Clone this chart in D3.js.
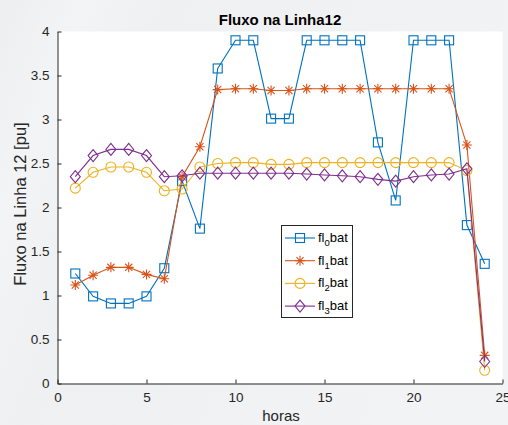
<!doctype html>
<html>
<head>
<meta charset="utf-8">
<script src="https://d3js.org/d3.v7.min.js"></script>
<style>
body { margin: 0; }
text { font-family: "Liberation Sans", Arial, sans-serif; }
</style>
</head>
<body>
<svg width="508" height="425"></svg>
<script>
var hours = d3.range(1, 25)
var fl0 = [1.25, 0.99, 0.91, 0.91, 0.99, 1.31, 2.30, 1.76, 3.58, 3.90, 3.90, 3.01,
           3.01, 3.90, 3.90, 3.90, 3.90, 2.74, 2.08, 3.90, 3.90, 3.90, 1.80, 1.36]
var fl1 = [1.12, 1.23, 1.32, 1.32, 1.24, 1.19, 2.35, 2.69, 3.34, 3.35, 3.35, 3.33,
           3.33, 3.35, 3.35, 3.35, 3.35, 3.35, 3.35, 3.35, 3.35, 3.35, 2.71, 0.32]
var fl2 = [2.22, 2.40, 2.46, 2.46, 2.40, 2.19, 2.21, 2.46, 2.50, 2.51, 2.51, 2.49,
           2.49, 2.51, 2.51, 2.51, 2.51, 2.51, 2.51, 2.51, 2.51, 2.51, 2.42, 0.15]
var fl3 = [2.35, 2.59, 2.66, 2.66, 2.59, 2.35, 2.36, 2.39, 2.39, 2.39, 2.39, 2.39,
           2.39, 2.38, 2.37, 2.36, 2.35, 2.32, 2.30, 2.35, 2.37, 2.38, 2.44, 0.25]
var series_names = ["0", "1", "2", "3"]
var x_ticks = [0, 5, 10, 15, 20, 25]
var y_ticks = [0, 0.5, 1, 1.5, 2, 2.5, 3, 3.5, 4]

var series = [
    {sub: series_names[0], values: fl0, color: "#0072BD", marker: "square"},
    {sub: series_names[1], values: fl1, color: "#D95319", marker: "star"},
    {sub: series_names[2], values: fl2, color: "#EDB120", marker: "circle"},
    {sub: series_names[3], values: fl3, color: "#7E2F8E", marker: "diamond"},
]

var svg = d3.select("svg")
var ax_left = 57.5, ax_right = 502.5, ax_top = 31.5, ax_bottom = 383.5

// figure background, light gray with a soft streak
var defs = svg.append("defs")
var grad = defs.append("linearGradient").attr("id", "bg")
    .attr("x1", "0").attr("y1", "0").attr("x2", "1").attr("y2", "0.3")
grad.append("stop").attr("offset", "0").attr("stop-color", "#eceeef")
grad.append("stop").attr("offset", "0.15").attr("stop-color", "#f3f4f5")
grad.append("stop").attr("offset", "0.3").attr("stop-color", "#eef0f1")
grad.append("stop").attr("offset", "1").attr("stop-color", "#f2f3f5")
svg.append("rect").attr("width", 508).attr("height", 425).attr("fill", "url(#bg)")

var x = d3.scaleLinear().domain([0, 25]).range([ax_left, ax_right])
var y = d3.scaleLinear().domain([0, 4]).range([ax_bottom, ax_top])

svg.append("rect")
    .attr("x", ax_left).attr("y", ax_top)
    .attr("width", ax_right - ax_left).attr("height", ax_bottom - ax_top)
    .attr("fill", "white")

var fmt = d3.format("~g")
svg.append("g")
    .attr("transform", "translate(0," + ax_bottom + ")")
    .call(d3.axisBottom(x).tickValues(x_ticks).tickFormat(fmt)
        .tickSizeInner(-4).tickSizeOuter(0).tickPadding(9))
svg.append("g")
    .attr("transform", "translate(" + ax_left + ",0)")
    .call(d3.axisLeft(y).tickValues(y_ticks).tickFormat(fmt)
        .tickSizeInner(-4).tickSizeOuter(0).tickPadding(8))
svg.selectAll(".tick text").attr("font-size", "13.5px").attr("fill", "#262626")
    .style("font-family", "'Liberation Sans', Arial, sans-serif")
svg.selectAll(".domain, .tick line").attr("stroke", "#262626")

function drawMarker(g, type, color) {
    if (type === "square") {
        g.append("rect").attr("x", -4.5).attr("y", -4.5).attr("width", 9).attr("height", 9)
            .attr("fill", "none").attr("stroke", color).attr("stroke-width", 1.1)
    } else if (type === "circle") {
        g.append("circle").attr("r", 5).attr("fill", "none").attr("stroke", color).attr("stroke-width", 1.1)
    } else if (type === "diamond") {
        g.append("path").attr("d", "M0,-6L5,0L0,6L-5,0Z")
            .attr("fill", "none").attr("stroke", color).attr("stroke-width", 1.1)
    } else if (type === "star") {
        g.append("path").attr("d", "M-5,0H5M0,-5V5M-3.6,-3.6L3.6,3.6M-3.6,3.6L3.6,-3.6")
            .attr("fill", "none").attr("stroke", color).attr("stroke-width", 1.1)
    }
}

var line = d3.line()
    .x(function(d, i) { return x(hours[i]); })
    .y(function(d) { return y(d); })

series.forEach(function(s) {
    svg.append("path")
        .attr("d", line(s.values))
        .attr("fill", "none").attr("stroke", s.color).attr("stroke-width", 1.1)
    s.values.forEach(function(v, i) {
        var m = svg.append("g").attr("transform", "translate(" + x(hours[i]) + "," + y(v) + ")")
        drawMarker(m, s.marker, s.color)
    })
})

// title and labels
svg.append("text")
    .attr("x", 280).attr("y", 25)
    .attr("text-anchor", "middle").attr("font-size", "15px").attr("font-weight", "bold")
    .attr("fill", "#000")
    .text("Fluxo na Linha12")
svg.append("text")
    .attr("x", 281).attr("y", 421)
    .attr("text-anchor", "middle").attr("font-size", "15px").attr("fill", "#262626")
    .text("horas")
svg.append("text")
    .attr("transform", "rotate(-90)")
    .attr("x", -204).attr("y", 26)
    .attr("text-anchor", "middle").attr("font-size", "16.5px").attr("fill", "#262626")
    .text("Fluxo na Linha 12 [pu]")

// legend
var lg = svg.append("g")
lg.append("rect")
    .attr("x", 281.5).attr("y", 225.5).attr("width", 71).attr("height", 92)
    .attr("fill", "white").attr("stroke", "#262626").attr("stroke-width", 1)
series.forEach(function(s, i) {
    var ly = 238 + i * 22.7
    lg.append("line")
        .attr("x1", 285).attr("x2", 315).attr("y1", ly).attr("y2", ly)
        .attr("stroke", s.color).attr("stroke-width", 1.1)
    drawMarker(lg.append("g").attr("transform", "translate(300," + ly + ")"), s.marker, s.color)
    var t = lg.append("text")
        .attr("x", 318).attr("y", ly + 4)
        .attr("font-size", "13px").attr("fill", "#000")
    t.append("tspan").text("fl")
    t.append("tspan").attr("font-size", "9.5px").attr("dy", 4).text(s.sub)
    t.append("tspan").attr("dy", -4).text("bat")
})
</script>
</body>
</html>
